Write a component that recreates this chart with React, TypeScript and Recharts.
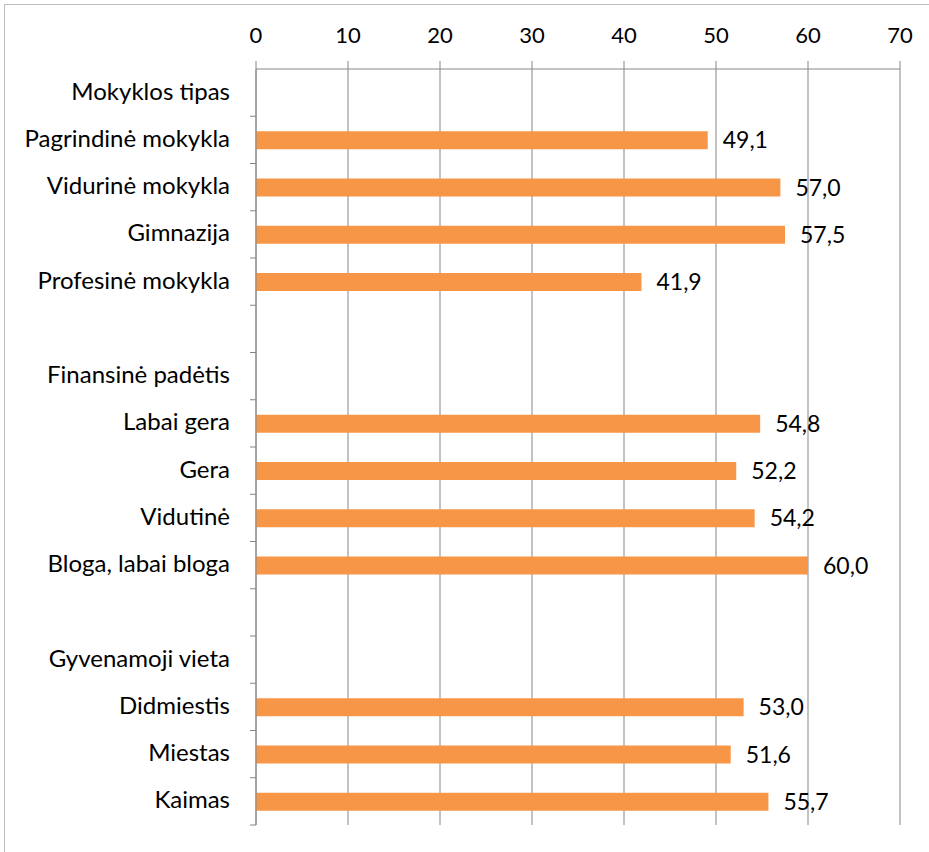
import React from "react";
import { BarChart, Bar, XAxis, YAxis, CartesianGrid, LabelList } from "recharts";

// rows top to bottom; group headers and spacer rows carry no value
const categories = [
    "Mokyklos tipas",
    "Pagrindinė mokykla",
    "Vidurinė mokykla",
    "Gimnazija",
    "Profesinė mokykla",
    " ",
    "Finansinė padėtis",
    "Labai gera",
    "Gera",
    "Vidutinė",
    "Bloga, labai bloga",
    "  ",
    "Gyvenamoji vieta",
    "Didmiestis",
    "Miestas",
    "Kaimas",
];

const values: (number | null)[] = [
    null, 49.1, 57.0, 57.5, 41.9,
    null,
    null, 54.8, 52.2, 54.2, 60.0,
    null,
    null, 53.0, 51.6, 55.7,
];

const xTicks = [0, 10, 20, 30, 40, 50, 60, 70];

const WIDTH = 929;
const HEIGHT = 852;
const MARGIN = { top: 0, right: 29, bottom: 27, left: 0 };
const X_AXIS_H = 69;
const Y_AXIS_W = 256;
const FONT = "Lato, 'Open Sans', sans-serif";
const AXIS_GRAY = "#868686";
const BAR_COLOR = "#F79646";

const rowStep = (HEIGHT - MARGIN.top - MARGIN.bottom - X_AXIS_H) / categories.length;

const data = categories.map((name, i) => ({ name, value: values[i] }));

// category label plus Excel-style tick marks between rows
function CategoryTick(props: any) {
    const { x, y, payload, index } = props;
    const axisX = x + 26;
    return (
        <g>
            <text
                x={x}
                y={y}
                dy={7}
                textAnchor="end"
                fontFamily={FONT}
                fontSize={24}
                fill="#000"
            >
                {payload.value}
            </text>
            {index > 0 && (
                <line x1={axisX - 6} x2={axisX} y1={y - rowStep / 2} y2={y - rowStep / 2} stroke={AXIS_GRAY} />
            )}
            {index === categories.length - 1 && (
                <line x1={axisX - 6} x2={axisX} y1={y + rowStep / 2} y2={y + rowStep / 2} stroke={AXIS_GRAY} />
            )}
        </g>
    );
}

const fmt = (v: any) => (v == null ? "" : Number(v).toFixed(1).replace(".", ","));

export default function App() {
    return (
        <div style={{ position: "absolute", left: 0, top: 0, width: WIDTH, height: HEIGHT, background: "#fff", overflow: "hidden" }}>
            {/* chart frame, cut off at right and bottom */}
            <div
                style={{
                    position: "absolute",
                    left: 4,
                    top: 4,
                    width: WIDTH + 20,
                    height: HEIGHT + 20,
                    border: "1px solid #bdbdbd",
                    boxSizing: "border-box",
                }}
            />
            <div style={{ position: "absolute", left: 0, top: 0 }}>
                <BarChart width={WIDTH} height={HEIGHT} data={data} layout="vertical" margin={MARGIN} barSize={18}>
                    <CartesianGrid horizontal={false} vertical={true} stroke={AXIS_GRAY} strokeWidth={1} />
                    <XAxis
                        type="number"
                        orientation="top"
                        domain={[0, 70]}
                        ticks={xTicks}
                        height={X_AXIS_H}
                        tickSize={8}
                        tickMargin={18}
                        axisLine={{ stroke: AXIS_GRAY }}
                        tickLine={{ stroke: AXIS_GRAY }}
                        tick={{ fill: "#000", fontSize: 22, fontFamily: FONT }}
                        interval={0}
                    />
                    <YAxis
                        type="category"
                        dataKey="name"
                        width={Y_AXIS_W}
                        tickSize={0}
                        tickMargin={26}
                        tickLine={false}
                        axisLine={{ stroke: AXIS_GRAY }}
                        tick={<CategoryTick />}
                        interval={0}
                    />
                    <Bar dataKey="value" fill={BAR_COLOR} isAnimationActive={false}>
                        <LabelList
                            dataKey="value"
                            position="right"
                            offset={15}
                            formatter={fmt}
                            style={{ fill: "#000", fontSize: 23, fontFamily: FONT }}
                        />
                    </Bar>
                </BarChart>
            </div>
        </div>
    );
}
